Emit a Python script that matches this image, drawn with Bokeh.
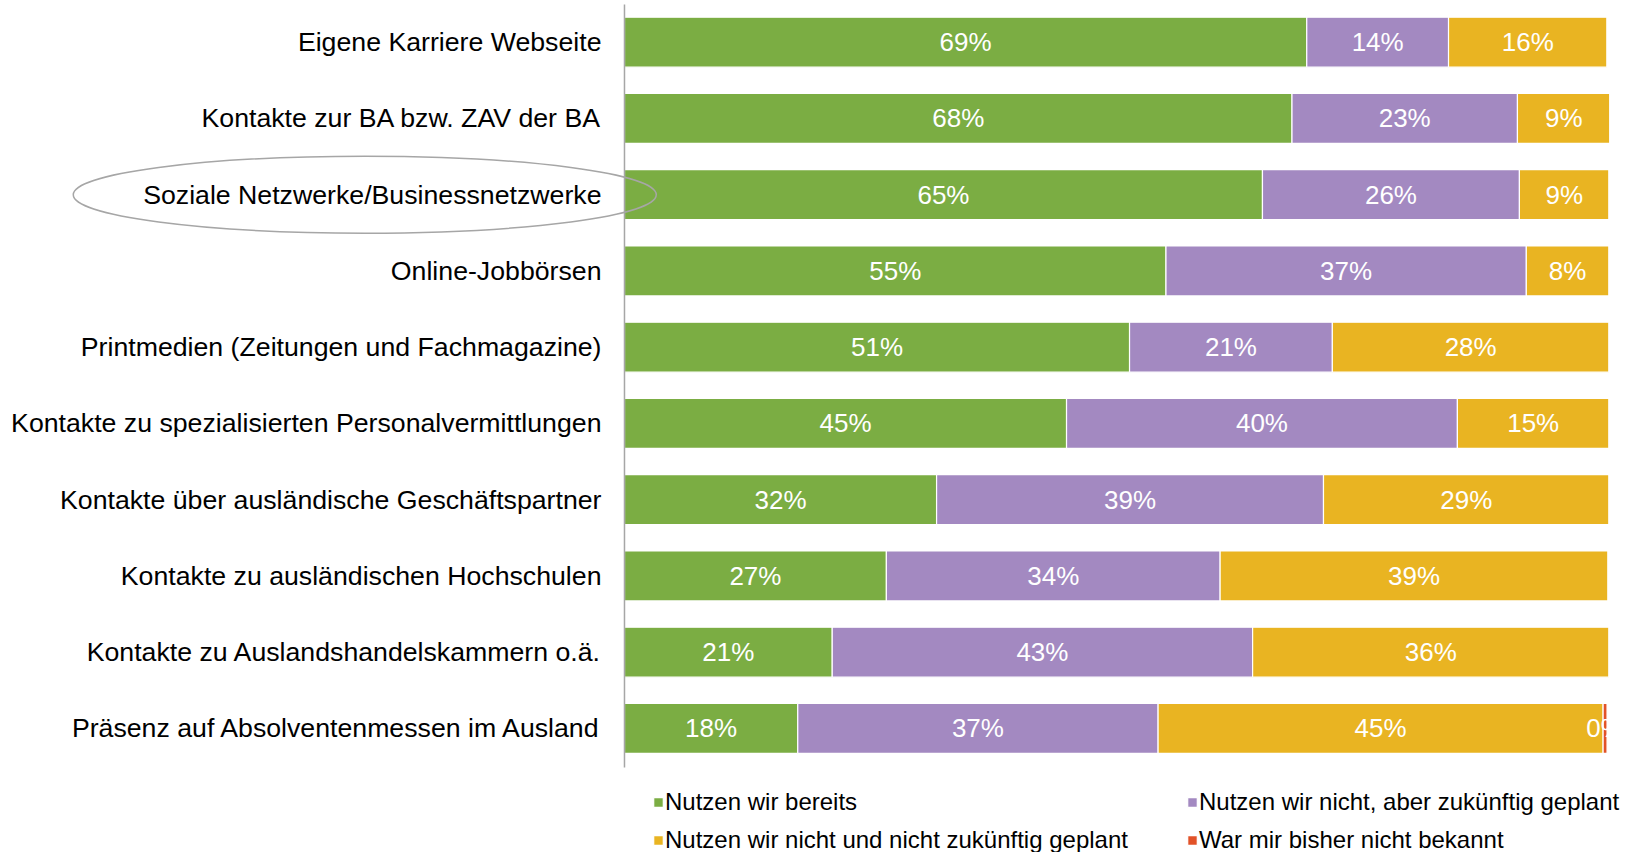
from bokeh.plotting import figure
from bokeh.models import Range1d, ColumnDataSource, Legend, LegendItem, BoxAnnotation
from bokeh.core.properties import value
from bokeh.embed import file_html
from bokeh.resources import INLINE

categories = [
    "Eigene Karriere Webseite",
    "Kontakte zur BA bzw. ZAV der BA",
    "Soziale Netzwerke/Businessnetzwerke",
    "Online-Jobbörsen",
    "Printmedien (Zeitungen und Fachmagazine)",
    "Kontakte zu spezialisierten Personalvermittlungen",
    "Kontakte über ausländische Geschäftspartner",
    "Kontakte zu ausländischen Hochschulen",
    "Kontakte zu Auslandshandelskammern o.ä.",
    "Präsenz auf Absolventenmessen im Ausland",
]
series_names = [
    "Nutzen wir bereits",
    "Nutzen wir nicht, aber zukünftig geplant",
    "Nutzen wir nicht und nicht zukünftig geplant",
    "War mir bisher nicht bekannt",
]
nutzen_bereits = [69.3, 67.8, 64.8, 55.0, 51.3, 44.9, 31.7, 26.6, 21.1, 17.6]
zukuenftig_geplant = [14.4, 22.9, 26.1, 36.6, 20.6, 39.7, 39.3, 33.9, 42.7, 36.6]
nicht_geplant = [16.1, 9.4, 9.1, 8.4, 28.1, 15.4, 29.0, 39.4, 36.2, 45.2]
nicht_bekannt = [0.0, 0.0, 0.0, 0.0, 0.0, 0.0, 0.0, 0.0, 0.0, 0.4]
highlighted = "Soziale Netzwerke/Businessnetzwerke"

colors = ["#7BAD43", "#A389C1", "#E9B422", "#E25228"]
series = [nutzen_bereits, zukuenftig_geplant, nicht_geplant, nicht_bekannt]

W, H = 1628, 852
X_END = 100.05  # right edge of the bar area
n = len(categories)
ypos = [n - 1 - i for i in range(n)]

p = figure(width=W, height=H, output_backend="svg", toolbar_location=None,
           x_range=Range1d(-63.38, 101.98), y_range=Range1d(-1.627, 9.547),
           x_axis_location=None, y_axis_location=None, min_border=0, tools="")
p.outline_line_color = None
p.grid.visible = False
p.background_fill_color = "white"

keys = ["s0", "s1", "s2", "s3"]
data = {"y": ypos}
for k, s in zip(keys, series):
    data[k] = s
src = ColumnDataSource(data)
rs = p.hbar_stack(keys, y="y", height=0.656, color=colors, source=src,
                  line_color="white", line_width=1.2)

# value labels
lx, ly, lt = [], [], []
cum = [0.0] * n
for s in series:
    for i in range(n):
        v = s[i]
        if v > 0:
            lx.append(cum[i] + v / 2)
            ly.append(ypos[i])
            lt.append(f"{v:.0f}%")
        cum[i] += v
p.text(x=lx, y=ly, text=lt, text_color="white", text_align="center",
       text_baseline="middle", text_font=value("Liberation Sans"),
       text_font_size="26px")

# clip value labels at the right edge of the bar area
p.add_layout(BoxAnnotation(left=X_END, bottom=-0.6, top=9.6, fill_color="white",
                           fill_alpha=1, line_alpha=0))

# category labels
p.text(x=[0] * n, y=ypos, text=categories, x_offset=-23, text_align="right",
       text_baseline="middle", text_font=value("Liberation Sans"),
       text_font_size="26.7px", text_color="black")

# axis line
p.segment(x0=[0], y0=[-0.512], x1=[0], y1=[9.495], line_color="#A6A6A6", line_width=1.5)

# highlight ellipse
hy = ypos[categories.index(highlighted)]
p.ellipse(x=[-26.38], y=[hy], width=583, height=77, width_units="screen",
          height_units="screen", fill_color=None, line_color="#A6A6A6", line_width=1.5)

common = dict(orientation="vertical", border_line_color=None, background_fill_alpha=0,
              padding=0, margin=0, spacing=10, glyph_width=12, glyph_height=12,
              label_standoff=1, label_text_font="Liberation Sans",
              label_text_font_size="24px", label_text_color="black")
leg1 = Legend(items=[LegendItem(label=series_names[0], renderers=[rs[0]]),
                     LegendItem(label=series_names[2], renderers=[rs[2]])],
              location=(652, -2), **common)
leg2 = Legend(items=[LegendItem(label=series_names[1], renderers=[rs[1]]),
                     LegendItem(label=series_names[3], renderers=[rs[3]])],
              location=(1186, -2), **common)
p.add_layout(leg1, "center")
p.add_layout(leg2, "center")

open("out.html", "w").write(file_html(p, INLINE))
